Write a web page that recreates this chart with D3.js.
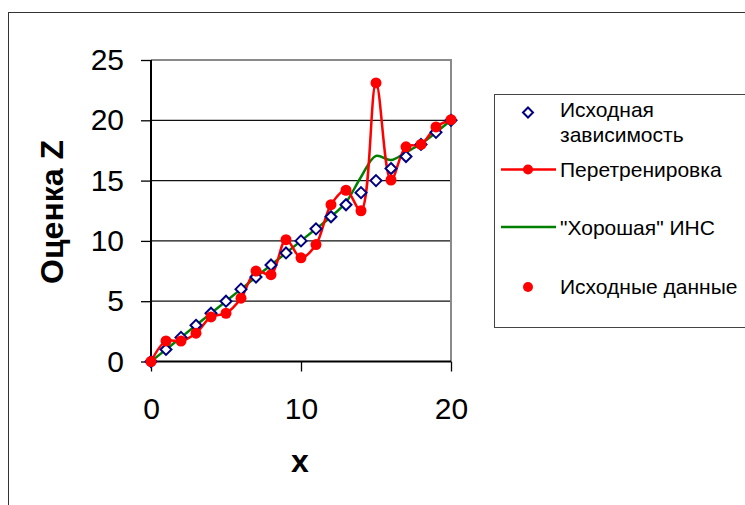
<!DOCTYPE html>
<html>
<head>
<meta charset="utf-8">
<script src="https://cdn.jsdelivr.net/npm/d3@7"></script>
<style>
  html, body { margin: 0; padding: 0; background: #fff; }
  svg { display: block; font-family: "Liberation Sans", Arial, sans-serif; }
</style>
</head>
<body>
<svg id="chart" width="745" height="505"></svg>
<script>
// x positions shared by every series
const xs = d3.range(0, 21);
// original dependency Z = x
const baseline = [0,1,2,3,4,5,6,7,8,9,10,11,12,13,14,15,16,17,18,19,20];
// noisy source data; the overtrained net passes through every point
const sourceData = [0,1.7,1.7,2.35,3.7,4.0,5.25,7.5,7.2,10.1,8.6,9.7,13.0,14.2,12.5,23.1,15.05,17.8,18.0,19.45,20.05];
// output of the well-trained network
const goodNet = [0,1,2,3,4,5,6,7,8,9,10,11,12,13.2,15.3,17.05,16.7,17.35,18.05,19,20];
const xTicks = [0, 10, 20];
const yTicks = [0, 5, 10, 15, 20, 25];
const legendLabels = [["Исходная", "зависимость"], ["Перетренировка"], ["\"Хорошая\" ИНС"], ["Исходные данные"]];

const svg = d3.select("#chart");
const x = d3.scaleLinear().domain([0, 20]).range([151, 451]);
const y = d3.scaleLinear().domain([0, 25]).range([361.5, 60]);

// outer chart frame
svg.append("rect").attr("x", 8.5).attr("y", 12.5).attr("width", 900).attr("height", 700)
  .attr("fill", "none").attr("stroke", "#333").attr("stroke-width", 1);

// horizontal gridlines
svg.append("g").selectAll("line").data(yTicks.filter(v => v > 0 && v < 25)).join("line")
  .attr("x1", x(0)).attr("x2", x(20)).attr("y1", d => y(d)).attr("y2", d => y(d))
  .attr("stroke", "#111").attr("stroke-width", 1.2);

// plot area border (top and right)
svg.append("path")
  .attr("d", `M${x(0)},${y(25)}H${x(20)}V${y(0)}`)
  .attr("fill", "none").attr("stroke", "#8a8a8a").attr("stroke-width", 2);

// y axis
const yAxis = d3.axisLeft(y).tickValues(yTicks).tickSize(10).tickPadding(17).tickFormat(d3.format("d"));
const gy = svg.append("g").attr("transform", `translate(${x(0)},0)`).call(yAxis);
// x axis
const xAxis = d3.axisBottom(x).tickValues(xTicks).tickSize(10).tickPadding(26).tickFormat(d3.format("d"));
const gx = svg.append("g").attr("transform", `translate(0,${y(0)})`).call(xAxis);
[gx, gy].forEach(g => {
  g.select(".domain").attr("stroke", "#000").attr("stroke-width", 2);
  g.selectAll(".tick line").attr("stroke", "#000").attr("stroke-width", 1.3);
  g.selectAll(".tick text").attr("fill", "#000").attr("font-size", 30)
    .attr("font-family", "'Liberation Sans', Arial, sans-serif");
});
gy.select(".domain").attr("d", `M0,${y(25)}V${y(0)}`);
gx.select(".domain").attr("d", `M${x(0)},0H${x(20)}`);

// axis titles
svg.append("text").attr("transform", `translate(63,212) rotate(-90)`)
  .attr("text-anchor", "middle").attr("font-size", 32).attr("font-weight", "bold")
  .text("Оценка Z");
svg.append("text").attr("x", 300).attr("y", 472)
  .attr("text-anchor", "middle").attr("font-size", 32).attr("font-weight", "bold")
  .text("x");

const smooth = d3.curveCatmullRom.alpha(0.5);

// good network curve
svg.append("path").datum(xs.map((v, i) => [v, goodNet[i]]))
  .attr("d", d3.line().x(d => x(d[0])).y(d => y(d[1])).curve(smooth))
  .attr("fill", "none").attr("stroke", "#008000").attr("stroke-width", 2.5);

// overtrained network curve
svg.append("path").datum(xs.map((v, i) => [v, sourceData[i]]))
  .attr("d", d3.line().x(d => x(d[0])).y(d => y(d[1])).curve(smooth))
  .attr("fill", "none").attr("stroke", "#ff0000").attr("stroke-width", 2.5);

// original dependency markers
const diamond = r => `M0,${-r}L${r},0L0,${r}L${-r},0Z`;
svg.append("g").selectAll("path").data(xs.map((v, i) => [v, baseline[i]])).join("path")
  .attr("transform", d => `translate(${x(d[0])},${y(d[1])})`)
  .attr("d", diamond(5.5))
  .attr("fill", "#fff").attr("stroke", "#000080").attr("stroke-width", 2);

// source data points
svg.append("g").selectAll("circle").data(xs.map((v, i) => [v, sourceData[i]])).join("circle")
  .attr("cx", d => x(d[0])).attr("cy", d => y(d[1])).attr("r", 5.5)
  .attr("fill", "#ff0000");

// legend
const lg = svg.append("g");
lg.append("rect").attr("x", 494.5).attr("y", 94.5).attr("width", 300).attr("height", 233)
  .attr("fill", "#fff").attr("stroke", "#444").attr("stroke-width", 1);
const symX = 528, textX = 560, fs = 21;
// entry 1: diamond
lg.append("path").attr("transform", `translate(${symX},112.5)`).attr("d", diamond(5))
  .attr("fill", "#fff").attr("stroke", "#000080").attr("stroke-width", 2);
lg.append("text").attr("x", textX).attr("y", 117).attr("font-size", fs).text(legendLabels[0][0]);
lg.append("text").attr("x", textX).attr("y", 142).attr("font-size", fs).text(legendLabels[0][1]);
// entry 2: red line with dot
lg.append("line").attr("x1", 501).attr("x2", 556).attr("y1", 169.5).attr("y2", 169.5)
  .attr("stroke", "#ff0000").attr("stroke-width", 2.5);
lg.append("circle").attr("cx", symX).attr("cy", 169.5).attr("r", 5).attr("fill", "#ff0000");
lg.append("text").attr("x", textX).attr("y", 177).attr("font-size", fs).text(legendLabels[1][0]);
// entry 3: green line
lg.append("line").attr("x1", 501).attr("x2", 556).attr("y1", 227).attr("y2", 227)
  .attr("stroke", "#008000").attr("stroke-width", 2.5);
lg.append("text").attr("x", textX).attr("y", 235).attr("font-size", fs).text(legendLabels[2][0]);
// entry 4: red dot
lg.append("circle").attr("cx", symX).attr("cy", 287).attr("r", 5).attr("fill", "#ff0000");
lg.append("text").attr("x", textX).attr("y", 294).attr("font-size", fs).text(legendLabels[3][0]);
</script>
</body>
</html>
